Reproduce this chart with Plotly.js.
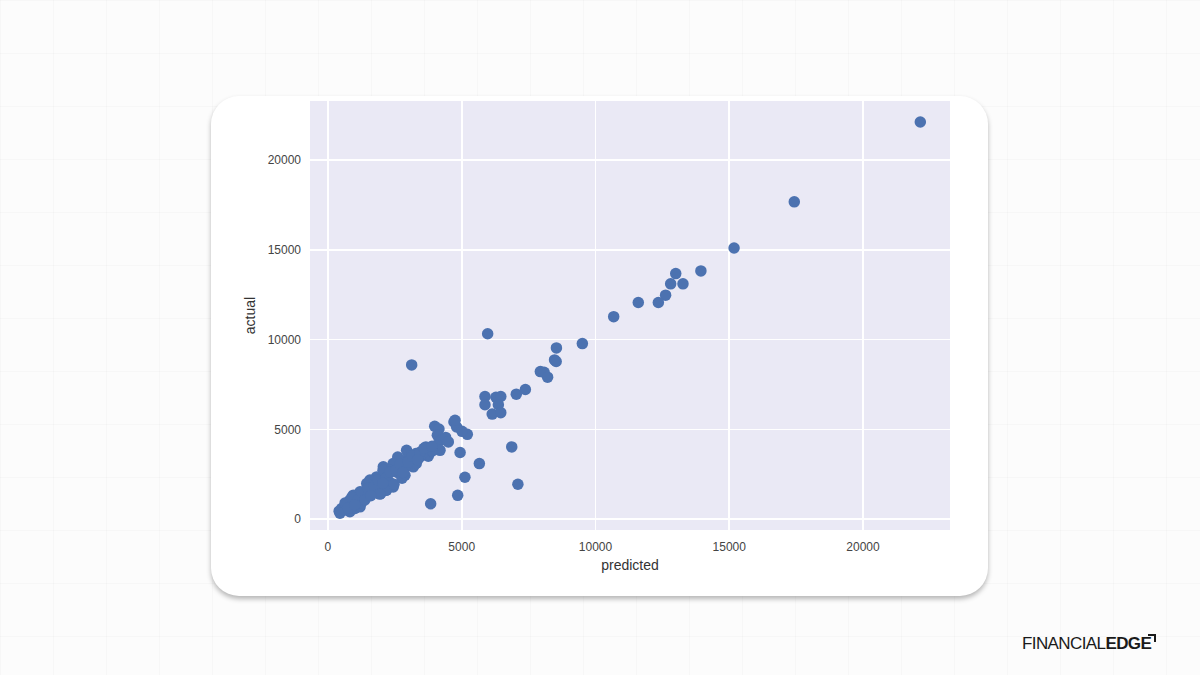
<!DOCTYPE html>
<html>
<head>
<meta charset="utf-8">
<script src="https://cdn.plot.ly/plotly-3.0.1.min.js"></script>
<style>
  html, body { margin: 0; padding: 0; }
  body {
    width: 1200px; height: 675px; overflow: hidden; position: relative;
    background-color: #fcfcfc;
    background-image:
      linear-gradient(to right, rgba(0,0,0,0.02) 1px, transparent 1px),
      linear-gradient(to bottom, rgba(0,0,0,0.02) 1px, transparent 1px);
    background-size: 53px 53px;
    font-family: "Liberation Sans", Arial, sans-serif;
  }
  #card {
    position: absolute; left: 211px; top: 96px; width: 777px; height: 500px;
    background: #ffffff; border-radius: 28px;
    box-shadow: 0 3px 5px rgba(0,0,0,0.28);
  }
  #chart { position: absolute; left: 0; top: 0; width: 1200px; height: 675px; }
  #logo {
    position: absolute; left: 1022px; top: 634px; font-size: 17px; letter-spacing: -0.6px;
    color: #1a1a1a; font-family: "Liberation Sans", Arial, sans-serif;
  }
  #logo .thin { font-weight: 300; }
  #logo .bold { font-weight: 700; position: relative; }
  #logo .corner {
    position: absolute; right: -5px; top: 0px; width: 6px; height: 6px;
    border-top: 2px solid #1a1a1a; border-right: 2px solid #1a1a1a;
  }
</style>
</head>
<body>
<div id="card"></div>
<div id="chart"></div>
<div id="logo"><span class="thin">FINANCIAL</span><span class="bold">EDGE<span class="corner"></span></span></div>
<script>
const predicted = [
  22140, 17430, 15180, 13940, 13000, 12810, 13270, 12620, 12350, 11600,
  10680, 5970, 9510, 8540, 8470, 8530, 7940, 8080, 8210, 7040,
  7380, 5870, 5870, 6280, 6460, 6370, 6140, 6460, 6870, 5660,
  5120, 7100, 5210, 4940, 4850, 3840, 3130, 4710, 4810, 5010,
  3990, 4150, 4090, 4220, 4060, 4190, 3660, 3750, 3290, 2940,
  2900, 2610, 2440, 2070, 3190, 2880, 2070, 2290, 2440, 1940,
  1700, 1510, 1970, 1200, 1320, 950, 1070, 820, 700, 1200,
  510, 420, 820, 1010, 3440, 3630, 3070, 2690, 2320, 1820,
  1570, 1450, 1760, 2190, 2060, 4400, 3560, 1100, 1350, 900,
  600, 2600, 2900, 1650, 2200, 3300, 4500, 3900, 1250, 4750,
  640, 900, 1120, 1270, 1500, 1720, 1870, 2170, 2320, 2540,
  2690, 2990, 3140, 3440, 3590, 3890, 2170, 2470, 2770, 1380,
  450, 750, 1940, 1000, 1600, 2050, 2800, 3350
];
const actual = [
  22130, 17680, 15110, 13830, 13680, 13110, 13110, 12480, 12070, 12070,
  11280, 10330, 9780, 9540, 8870, 8780, 8220, 8180, 7910, 6960,
  7220, 6830, 6370, 6790, 6830, 6370, 5850, 5930, 4020, 3090,
  2330, 1940, 4720, 3710, 1320, 850, 8590, 5410, 5130, 4890,
  5170, 5020, 4670, 4390, 4110, 3830, 4020, 3500, 3650, 3830,
  3280, 3460, 3090, 2910, 2910, 2440, 2440, 2070, 1790, 1790,
  1890, 1610, 1420, 1520, 1240, 1330, 960, 1060, 780, 680,
  590, 440, 410, 590, 3460, 3650, 3280, 2910, 2720, 2350,
  2170, 1980, 1610, 1610, 2720, 4550, 3700, 1200, 1450, 700,
  500, 2600, 2900, 1750, 2300, 3100, 4300, 3800, 900, 5500,
  890, 1220, 1060, 1500, 1720, 1830, 2170, 2280, 2610, 2720,
  3060, 3170, 3500, 3720, 3940, 4060, 1610, 1940, 2280, 1060,
  330, 610, 1390, 800, 1300, 2000, 2600, 3300
];
const tickVals = [0, 5000, 10000, 15000, 20000];
const tickText = ["0", "5000", "10000", "15000", "20000"];

const trace = {
  x: predicted, y: actual, type: 'scatter', mode: 'markers',
  marker: { color: '#4c72b0', size: 11.5, line: { width: 0 } },
  hoverinfo: 'x+y'
};

const axisBase = {
  showgrid: true, gridcolor: '#ffffff', gridwidth: 1.6,
  zeroline: false, showline: false, ticks: '', ticklabelstandoff: 8,
  tickfont: { family: 'Liberation Sans, Arial, sans-serif', size: 12, color: '#444444' },
  tickmode: 'array', tickvals: tickVals, ticktext: tickText, automargin: true
};

const layout = {
  width: 1200, height: 675,
  margin: { l: 310, r: 250, t: 101, b: 145 },
  paper_bgcolor: 'rgba(0,0,0,0)',
  plot_bgcolor: '#eae9f5',
  showlegend: false,
  xaxis: Object.assign({}, axisBase, {
    range: [-670, 23250],
    title: { text: 'predicted', standoff: 7,
      font: { family: 'Liberation Sans, Arial, sans-serif', size: 14, color: '#333333' } }
  }),
  yaxis: Object.assign({}, axisBase, {
    range: [-610, 23300],
    title: { text: 'actual', standoff: 8,
      font: { family: 'Liberation Sans, Arial, sans-serif', size: 14, color: '#333333' } }
  })
};

Plotly.newPlot('chart', [trace], layout, { staticPlot: true, displayModeBar: false });
</script>
</body>
</html>
